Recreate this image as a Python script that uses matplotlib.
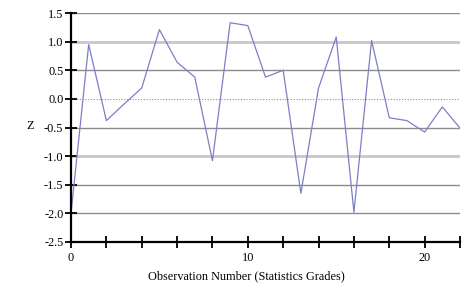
import matplotlib
matplotlib.use("Agg")
import matplotlib.pyplot as plt

# observation numbers and z-scores
obs = list(range(23))
z = [-2.0, 0.95, -0.38, -0.09, 0.19, 1.21, 0.64, 0.38, -1.08, 1.33,
     1.28, 0.38, 0.50, -1.65, 0.19, 1.08, -1.98, 1.02, -0.33, -0.38,
     -0.58, -0.14, -0.51]

y_ticks = [-2.5, -2.0, -1.5, -1.0, -0.5, 0.0, 0.5, 1.0, 1.5]
y_labels = ["-2.5", "-2.0", "-1.5", "-1.0", "-0.5", "0.0", "0.5", "1.0", "1.5"]
x_ticks = list(range(0, 23, 2))
x_labels = ["0", "", "", "", "", "10", "", "", "", "", "20", ""]

plt.rcParams['font.family'] = ['Liberation Serif', 'DejaVu Serif']

fig = plt.figure(figsize=(4.64, 2.87), dpi=100)
ax = fig.add_axes([71 / 464, 1 - 242 / 287, 389 / 464, 229 / 287])

# grid lines: +-1 lighter and thicker, 0 dotted
for yv in y_ticks[1:]:
    if yv == 0:
        ax.axhline(yv, color='#909090', lw=0.8, ls=(0, (1, 1.5)), zorder=1)
    elif abs(yv) == 1.0:
        ax.axhline(yv, color='#c8c8c8', lw=2.0, zorder=1)
    else:
        ax.axhline(yv, color='#8c8c8c', lw=1.0, zorder=1)

ax.plot(obs, z, color='#7e7ec6', lw=0.9, zorder=3)

ax.set_xlim(0, 22)
ax.set_ylim(-2.5, 1.5)
ax.set_yticks(y_ticks)
ax.set_yticklabels(y_labels)
ax.set_xticks(x_ticks)
ax.set_xticklabels(x_labels)

for s in ['top', 'right']:
    ax.spines[s].set_visible(False)
for s in ['left', 'bottom']:
    ax.spines[s].set_linewidth(1.6)
    ax.spines[s].set_color('black')
    ax.spines[s].set_zorder(4)

ax.tick_params(direction='inout', length=9, width=1.3, labelsize=8.8,
               colors='black', pad=1)
ax.tick_params(axis='x', pad=3)

fig.text(30 / 464, 1 - 126 / 287, "Z", fontsize=8.8, ha='center', va='center')
fig.text(246 / 464, 1 - 276 / 287, "Observation Number (Statistics Grades)",
         fontsize=8.8, ha='center', va='center')

fig.savefig("out.png", dpi=100)
